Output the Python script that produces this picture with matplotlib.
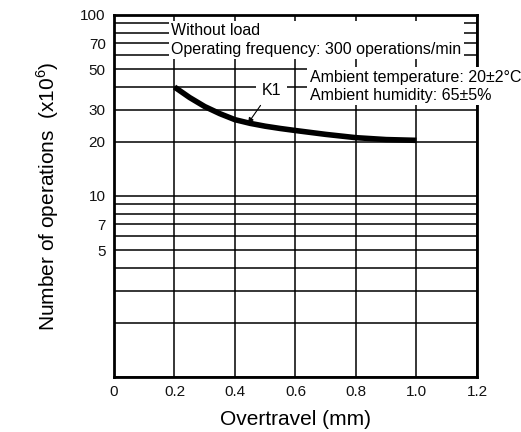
import matplotlib
matplotlib.use("Agg")
import matplotlib.pyplot as plt

plt.rcParams["font.family"] = ["Liberation Sans", "DejaVu Sans"]
plt.rcParams["mathtext.fontset"] = "custom"
plt.rcParams["mathtext.rm"] = "Liberation Sans"

# curve K1
overtravel = [0.2, 0.25, 0.3, 0.35, 0.4, 0.45, 0.5, 0.55, 0.6, 0.7, 0.8, 0.9, 1.0]
operations = [40, 35.0, 31.2, 28.5, 26.4, 25.2, 24.3, 23.6, 23.0, 21.9, 21.0, 20.5, 20.3]

x_ticks = [0, 0.2, 0.4, 0.6, 0.8, 1.0, 1.2]
x_labels = ["0", "0.2", "0.4", "0.6", "0.8", "1.0", "1.2"]
y_ticks = [5, 7, 10, 20, 30, 50, 70, 100]
y_minor = [1, 2, 3, 4, 6, 8, 9, 40, 60, 80, 90]

fig = plt.figure(figsize=(5.21, 4.32), dpi=100)
ax = fig.add_axes([0.2188, 0.1273, 0.6967, 0.838])

ax.set_yscale("log")
ax.set_xlim(0, 1.2)
ax.set_ylim(1, 100)
ax.set_xticks(x_ticks)
ax.set_xticklabels(x_labels)
ax.set_yticks(y_ticks)
ax.set_yticklabels([str(v) for v in y_ticks])
ax.set_yticks(y_minor, minor=True)
ax.yaxis.set_minor_formatter(matplotlib.ticker.NullFormatter())
ax.tick_params(which="both", length=0, labelsize=11, colors="#111111", pad=6)
ax.set_axisbelow(True)
ax.grid(True, which="both", axis="y", color="black", linewidth=1.1)
ax.grid(True, which="major", axis="x", color="black", linewidth=1.1)
for s in ax.spines.values():
    s.set_linewidth(2)

ax.plot(overtravel, operations, color="black", linewidth=4,
        solid_capstyle="butt", solid_joinstyle="round", zorder=3)

ax.text(0.19, 72.5, "Without load\nOperating frequency: 300 operations/min",
        fontsize=11.5, va="center", ha="left", linespacing=1.3, zorder=5,
        bbox=dict(facecolor="white", edgecolor="none", pad=1.5))
ax.text(0.648, 40.5, "Ambient temperature: 20\u00b12\u00b0C\nAmbient humidity: 65\u00b15%",
        fontsize=11.5, va="center", ha="left", linespacing=1.25, zorder=5,
        clip_on=False, bbox=dict(facecolor="white", edgecolor="none", pad=2))
ax.annotate("K1", xy=(0.443, 25.2), xytext=(0.52, 38.5),
            fontsize=11.5, ha="center", va="center", zorder=5,
            bbox=dict(facecolor="white", edgecolor="none", pad=4),
            arrowprops=dict(arrowstyle="-|>", color="black", lw=0.8,
                            mutation_scale=8, shrinkA=2, shrinkB=0))

ax.set_xlabel("Overtravel (mm)", fontsize=15, labelpad=8)
ax.set_ylabel("Number of operations  (x10$^{6}$)", fontsize=15, labelpad=14)

fig.savefig("out.png", dpi=100)
